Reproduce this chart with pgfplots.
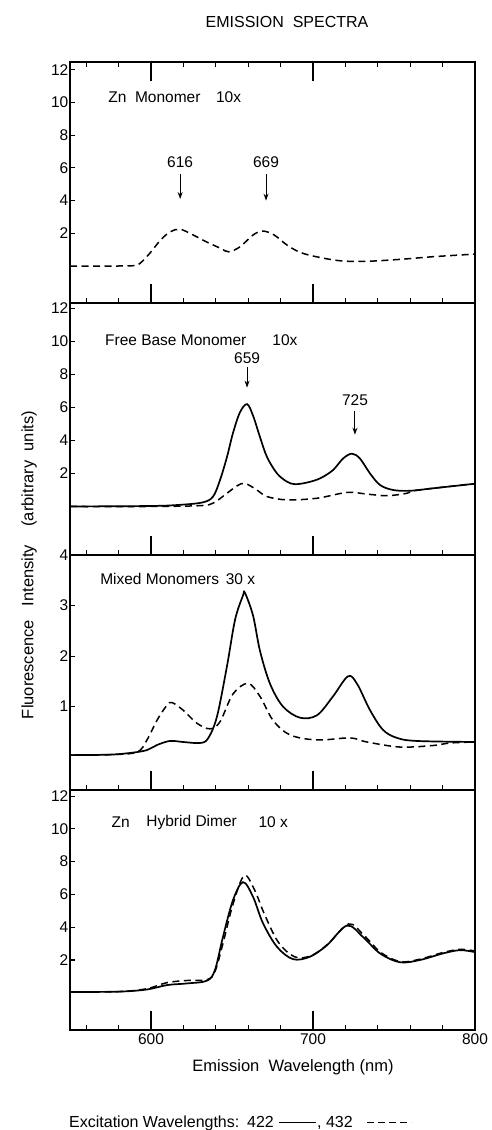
\documentclass[border=0pt]{standalone}
\usepackage{fontspec}
\setmainfont{Liberation Sans}
\usepackage{pgfplots}
\pgfplotsset{compat=1.18}
\usetikzlibrary{arrows.meta}
\newcommand\lab{\fontsize{15.5}{17}\selectfont}
\newcommand\tkf{\fontsize{15.5}{17}\selectfont}
\newcommand\bigf{\fontsize{16}{18}\selectfont}
\tikzset{arr/.style={-{Stealth[length=7pt,width=5pt]}, line width=1.0pt}}
\pgfplotsset{
  panel/.style={
    scale only axis, width=405pt, xmin=550, xmax=800,
    xtick={600,700}, xticklabels={},
    minor xtick={560,580,620,640,660,680,720,740,760,780},
    major tick length=19pt, minor tick length=5pt,
    tick align=inside,
    xtick pos=bottom, ytick pos=left,
    yticklabels={}, ytick=\empty,
    axis line style={line width=1.1pt},
    major tick style={line width=1.1pt, black},
    minor tick style={line width=1.1pt, black},
    xticklabel style={font=\tkf},
    /pgf/number format/assume math mode=true,
    clip=false, anchor=south west,
    extra y tick style={major tick length=5pt, yticklabel style={font=\tkf, inner sep=1.5pt}},
  },
  sol/.style={black, line width=1.7pt, smooth, tension=0.55},
  das/.style={black, line width=1.5pt, smooth, tension=0.55, dash pattern=on 7pt off 4.5pt},
}
\begin{document}
\begin{tikzpicture}
\useasboundingbox (0pt,0pt) rectangle (491pt,1130pt);

% Panel 1: Zn Monomer
\begin{axis}[panel, at={(70pt,827pt)}, height=241pt, ymin=-2.26, ymax=12.48,
  extra y ticks={2,4,...,12}, minor ytick={2,4,...,12}, xtick pos=both]
\addplot[das] coordinates {
(550,0.00) (570,0.00) (589,0.02) (593,0.15) (599,0.75) (606,1.60) (612,2.10)
(618,2.25) (626,1.90) (634,1.49) (643,1.08) (648,0.87) (655,1.18) (663,1.90)
(669,2.14) (676,1.90) (684,1.28) (692,0.84) (702,0.57) (717,0.32) (733,0.29)
(754,0.41) (774,0.57) (800,0.73)};
\node[anchor=west, font=\lab] at (axis cs:571.5,10.3) {Zn\ \ Monomer};
\node[anchor=west, font=\lab] at (axis cs:638,10.3) {10x};
\node[font=\lab] at (axis cs:618,6.35) {616};
\draw[arr] (axis cs:618,5.6) -- (axis cs:618,4.1);
\node[font=\lab] at (axis cs:671,6.35) {669};
\draw[arr] (axis cs:671,5.6) -- (axis cs:671,4.0);
\end{axis}

% Panel 2: Free Base Monomer
\begin{axis}[panel, at={(70pt,575pt)}, height=252pt, ymin=-2.94, ymax=12.33,
  extra y ticks={2,4,...,12}, minor ytick={2,4,...,12}]
\addplot[sol] coordinates {
(550,0.00) (600,0.03) (618,0.10) (632,0.25) (638.3,0.6) (642.6,1.6) (646.9,3.0)
(650.6,4.45) (654.9,5.7) (659.3,6.2) (663,5.5) (667.3,4.2) (671.6,3.0)
(677.8,2.0) (684,1.5) (688.9,1.35) (696.3,1.45) (704.3,1.7) (712.3,2.2)
(718.5,2.9) (724,3.2) (729,2.9) (735.2,2.0) (741.4,1.3) (749.4,1.0)
(759.9,0.95) (774,1.1) (800,1.38)};
\addplot[das] coordinates {
(550,0.00) (600,0.0) (630.2,0.05) (638.3,0.2) (646.9,0.8) (653.1,1.25)
(658,1.4) (665.4,1.0) (671.6,0.6) (684,0.4) (702.5,0.5) (721,0.85)
(733.3,0.75) (745.7,0.65) (758,0.8) (762,0.95) (774,1.1) (800,1.38)};
\node[anchor=west, font=\lab] at (axis cs:569.5,10.1) {Free\ Base\ Monomer};
\node[anchor=west, font=\lab] at (axis cs:672.8,10.1) {10x};
\node[font=\lab] at (axis cs:659.3,9.0) {659};
\draw[arr] (axis cs:659.3,8.45) -- (axis cs:659.3,7.2);
\node[font=\lab] at (axis cs:725.9,6.45) {725};
\draw[arr] (axis cs:725.9,5.8) -- (axis cs:725.9,4.35);
\end{axis}

% Panel 3: Mixed Monomers
\begin{axis}[panel, at={(70pt,340pt)}, height=235pt, ymin=-0.65, ymax=4.0,
  extra y ticks={1,2,3,4}, minor ytick={1,2,3,4}]
\addplot[sol] coordinates {
(550,0.04) (575,0.05) (588.9,0.09) (597.5,0.14) (603.7,0.24) (611.7,0.32)
(619.8,0.30) (630.2,0.28) (635.2,0.37) (640.7,0.8) (646.9,1.8) (651.9,2.72)
(656.8,3.2) (658,3.25) (663,2.8) (667.3,2.1) (673.5,1.45) (681.5,1.0)
(692,0.78) (702.5,0.83) (712.3,1.2) (721.6,1.6) (727.2,1.45) (735.2,0.93)
(743.2,0.54) (751.9,0.38) (764.2,0.32) (800,0.3)};
\addplot[das] coordinates {
(550,0.04) (575,0.05) (591.4,0.1) (597.5,0.34) (603.7,0.73) (609.9,1.03)
(613,1.08) (619.8,0.93) (628.4,0.67) (636.4,0.56) (642.6,0.7) (650.6,1.25)
(659.9,1.46) (667.3,1.2) (675.3,0.73) (685.8,0.44) (702.5,0.34) (722.8,0.38)
(733.3,0.3) (753.7,0.2) (774,0.23) (784.6,0.28) (800,0.3)};
\node[anchor=west, font=\lab] at (axis cs:566.5,3.52) {Mixed\ Monomers};
\node[anchor=west, font=\lab] at (axis cs:644,3.52) {30 x};
\end{axis}

% Panel 4: Zn Hybrid Dimer
\begin{axis}[panel, at={(70pt,100pt)}, height=240pt, ymin=-2.27, ymax=12.37,
  extra y ticks={2,4,...,12}, minor ytick={2,4,...,12},
  xtick={600,700,800}, xticklabels={600,700,800}]
\addplot[sol] coordinates {
(550,0.05) (580,0.07) (597.5,0.2) (609.9,0.47) (622.2,0.57) (634.6,0.74)
(639.5,1.4) (644.4,3.4) (650.6,5.65) (656.8,6.75) (663,5.85) (669.1,4.25)
(677.8,2.8) (687.7,2.05) (698.1,2.2) (708.6,2.9) (721,4.1) (730.9,3.4)
(741.4,2.4) (753.7,1.86) (766,2.0) (780.2,2.4) (790.7,2.6) (800,2.48)};
\addplot[das] coordinates {
(550,0.05) (580,0.07) (597.5,0.25) (609.9,0.62) (622.2,0.75) (634.6,0.8)
(639.5,1.3) (644.4,3.0) (650.6,5.4) (657.5,7.15) (663.8,6.3) (670,4.8)
(678.5,3.1) (688.5,2.2) (698.5,2.25) (709,2.95) (722,4.2) (731.5,3.5)
(742,2.45) (754,1.9) (766,2.05) (780,2.45) (790.7,2.65) (800,2.55)};
\node[anchor=west, font=\lab] at (axis cs:573.5,10.4) {Zn};
\node[anchor=west, font=\lab] at (axis cs:595,10.4) {Hybrid\ Dimer};
\node[anchor=west, font=\lab] at (axis cs:664.2,10.4) {10 x};
\end{axis}

% Titles and labels
\node[font=\bigf] at (287pt,1108pt) {EMISSION\ \ SPECTRA};
\node[font=\fontsize{16.5}{18}\selectfont, rotate=90] at (29pt,565pt) {Fluorescence\ \ \ Intensity\ \ \ \ (arbitrary\ \ units)};
\node[font=\fontsize{16.5}{18}\selectfont] at (293pt,63pt) {Emission\ \ Wavelength\ (nm)};
% caption: excitation wavelengths key
\node[font=\bigf, anchor=base west, inner sep=0pt] at (69pt,2pt) {Excitation\ Wavelengths:};
\node[font=\bigf, anchor=base west, inner sep=0pt] at (247pt,2pt) {422};
\draw[line width=1.3pt] (279pt,7.5pt) -- (316pt,7.5pt);
\node[font=\bigf, anchor=base west, inner sep=0pt] at (317pt,2pt) {, 432};
\draw[line width=1.3pt, dash pattern=on 7pt off 4pt] (367pt,7.5pt) -- (411pt,7.5pt);
\end{tikzpicture}
\end{document}
